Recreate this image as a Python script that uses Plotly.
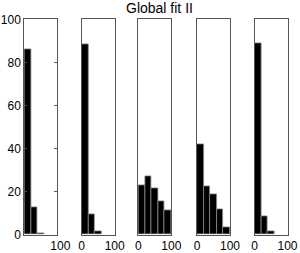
import plotly.graph_objects as go

bin_centers = [10, 30, 50, 70, 90]
panel1 = [86, 12.5, 0.5]
panel2 = [88.5, 9.4, 1.3]
panel3 = [23, 27.2, 21.5, 15.3, 11.1]
panel4 = [42, 22.5, 18.7, 11.7, 3.2]
panel5 = [88.8, 8.6, 1.3]
panels = [panel1, panel2, panel3, panel4, panel5]
y_ticks = [0, 20, 40, 60, 80, 100]
x_ticks = [0, 100]
title_text = "Global fit II"

W, H = 300, 253
lefts = [24.3, 81.7, 138.3, 197.0, 254.5]
pw = 33.0
y_bot = 1 - 234.5 / H
y_top = 1 - 19.3 / H

fig = go.Figure()
font = dict(family="Liberation Sans, Arial, sans-serif", size=12, color="black")
for i, vals in enumerate(panels):
    n = i + 1
    xa = "x" if n == 1 else f"x{n}"
    ya = "y" if n == 1 else f"y{n}"
    fig.add_trace(go.Bar(
        x=bin_centers[:len(vals)], y=vals, width=20,
        marker=dict(color="black", line=dict(color="#8a8a8a", width=0.8)),
        xaxis=xa, yaxis=ya, showlegend=False, hoverinfo="skip"))
    xkey = "xaxis" if n == 1 else f"xaxis{n}"
    ykey = "yaxis" if n == 1 else f"yaxis{n}"
    fig.layout[xkey] = dict(
        domain=[lefts[i] / W, (lefts[i] + pw) / W], range=[0, 100],
        anchor=ya, showgrid=False, zeroline=False, automargin=False,
        showline=True, mirror=True, linecolor="#555", linewidth=1,
        tickmode="array", tickvals=[100] if n == 1 else x_ticks,
        ticktext=["100"] if n == 1 else [str(t) for t in x_ticks],
        ticks="", tickfont=font, fixedrange=True,
        ticklabelshift=3 if n == 1 else 0)
    ydict = dict(
        domain=[y_bot, y_top], range=[0, 100], anchor=xa,
        showgrid=False, zeroline=False, automargin=False,
        showline=True, mirror=True, linecolor="#555", linewidth=1,
        fixedrange=True)
    if n == 1:
        ydict.update(tickmode="array", tickvals=y_ticks,
                     ticktext=[str(t) for t in y_ticks],
                     ticks="inside", ticklen=3, tickcolor="#555",
                     tickfont=font)
        ydict["mirror"] = "ticks"
    else:
        ydict.update(showticklabels=False, ticks="")
    fig.layout[ykey] = ydict

fig.update_layout(
    width=W, height=H, margin=dict(l=0, r=0, t=0, b=0, autoexpand=False),
    paper_bgcolor="white", plot_bgcolor="white", bargap=0,
    annotations=[dict(text=title_text, x=159 / W, y=1 - 8 / H,
                      xref="paper", yref="paper", showarrow=False,
                      xanchor="center", yanchor="middle",
                      font=dict(family="Liberation Sans, Arial, sans-serif",
                                size=14, color="black"))])
fig.write_html("out.html", config={"displayModeBar": False},
               post_script="document.body.style.margin='0px';")
